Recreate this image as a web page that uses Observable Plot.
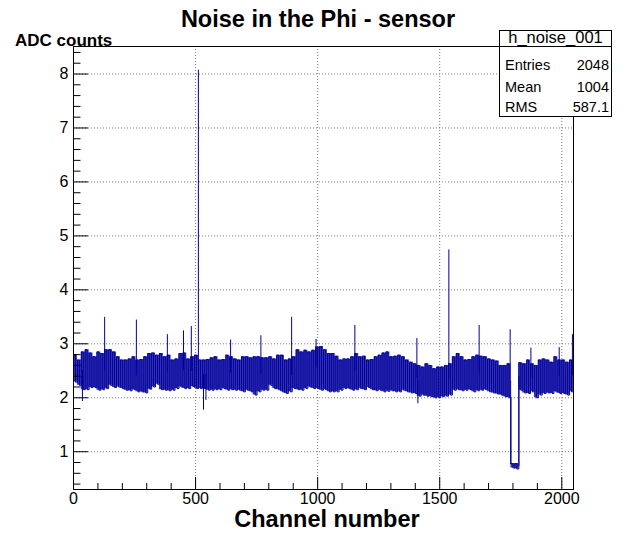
<!DOCTYPE html>
<html><head><meta charset="utf-8">
<script src="https://cdn.jsdelivr.net/npm/d3@7"></script>
<script src="https://cdn.jsdelivr.net/npm/@observablehq/plot@0.6"></script>
<style>html,body{margin:0;padding:0;background:#fff}svg{display:block}</style>
</head><body><div id="chart"></div>
<script>
// ---- text ----
const title = "Noise in the Phi - sensor";
const xTitle = "Channel number";
const yTitle = "ADC counts";
const histName = "h_noise_001";
const statLabels = ["Entries", "Mean", "RMS"];
const statValues = ["2048", "1004", "587.1"];

// ---- axes ----
const xDomain = [0, 2048];
const yDomain = [0.30, 8.51];
const xMajor = [0, 500, 1000, 1500, 2000];
const xMinor = [100, 200, 300, 400, 600, 700, 800, 900, 1100, 1200, 1300, 1400, 1600, 1700, 1800, 1900];
const yMajor = [1, 2, 3, 4, 5, 6, 7, 8];
const yMinor = [0.4, 0.6, 0.8, 1.2, 1.4, 1.6, 1.8, 2.2, 2.4, 2.6, 2.8, 3.2, 3.4, 3.6, 3.8, 4.2, 4.4, 4.6, 4.8,
  5.2, 5.4, 5.6, 5.8, 6.2, 6.4, 6.6, 6.8, 7.2, 7.4, 7.6, 7.8, 8.2, 8.4];

// ---- data: noise band envelope (max / min) read per group of 16 channels ----
const segWidth = 16;
const bandHi = [
  2.79, 2.70, 2.85, 2.89, 2.83, 2.76, 2.85, 2.82, 2.89, 2.89, 2.85, 2.76, 2.70, 2.70, 2.72, 2.76, 2.70, 2.71, 2.76, 2.82, 2.83, 2.79, 2.82, 2.76, 2.79,
  2.70, 2.72, 2.82, 2.83, 2.72, 2.76, 2.79, 2.70, 2.70, 2.71, 2.74, 2.76, 2.70, 2.71, 2.79, 2.76, 2.72, 2.70, 2.76, 2.76, 2.74, 2.76, 2.76, 2.74, 2.74,
  2.76, 2.72, 2.79, 2.79, 2.70, 2.72, 2.76, 2.89, 2.85, 2.88, 2.85, 2.88, 2.94, 2.95, 2.89, 2.82, 2.82, 2.77, 2.70, 2.72, 2.72, 2.76, 2.82, 2.76, 2.77,
  2.70, 2.71, 2.76, 2.79, 2.83, 2.85, 2.76, 2.77, 2.79, 2.76, 2.70, 2.66, 2.63, 2.60, 2.57, 2.63, 2.60, 2.54, 2.57, 2.57, 2.60, 2.63, 2.76, 2.82, 2.76,
  2.70, 2.71, 2.76, 2.79, 2.77, 2.76, 2.72, 2.70, 2.68, 2.60, 2.60, 2.63, 0.78, 0.78, 2.65, 2.63, 2.70, 2.63, 2.60, 2.70, 2.72, 2.70, 2.66, 2.76, 2.70, 2.70, 2.66, 2.70
];
const bandLo = [
  2.29, 2.23, 2.15, 2.15, 2.19, 2.19, 2.14, 2.15, 2.17, 2.23, 2.19, 2.20, 2.17, 2.14, 2.13, 2.15, 2.11, 2.11, 2.09, 2.16, 2.20, 2.25, 2.15, 2.14, 2.13,
  2.14, 2.17, 2.20, 2.17, 2.17, 2.21, 2.17, 2.17, 2.17, 2.14, 2.14, 2.15, 2.15, 2.17, 2.14, 2.15, 2.14, 2.14, 2.11, 2.14, 2.11, 2.05, 2.11, 2.14, 2.14,
  2.23, 2.17, 2.15, 2.11, 2.08, 2.11, 2.17, 2.15, 2.14, 2.17, 2.20, 2.17, 2.17, 2.14, 2.15, 2.11, 2.11, 2.11, 2.14, 2.17, 2.17, 2.14, 2.15, 2.17, 2.15,
  2.19, 2.15, 2.13, 2.14, 2.11, 2.12, 2.13, 2.11, 2.11, 2.14, 2.11, 2.09, 2.08, 2.03, 2.05, 2.03, 2.02, 2.00, 2.00, 2.02, 2.03, 2.05, 2.14, 2.15, 2.13,
  2.14, 2.15, 2.11, 2.13, 2.14, 2.15, 2.11, 2.09, 2.07, 2.05, 2.02, 2.00, 0.70, 0.68, 2.14, 2.09, 2.08, 2.11, 2.00, 2.05, 2.08, 2.09, 2.08, 2.11, 2.08, 2.08, 2.05, 2.11
];

// ---- data: isolated channels sticking out of the band ----
const spikeChannel = [36, 127, 257, 384, 450, 482, 511, 532, 542, 643, 767, 893, 993, 1152, 1406, 1410, 1537, 1661, 1788, 1790, 1824, 1873, 1989, 2043];
const spikeValue   = [1.93, 3.49, 3.44, 3.17, 3.24, 3.32, 8.07, 1.77, 1.95, 3.07, 3.15, 3.49, 3.08, 3.34, 3.10, 1.89, 4.74, 3.34, 3.26, 0.76, 0.72, 2.92, 2.93, 3.17];

// ---- build tables ----
const bandData = bandHi.map((hi, i) => ({x: i * segWidth, lo: bandLo[i], hi}));
bandData.push({x: bandHi.length * segWidth, lo: bandLo[bandLo.length - 1], hi: bandHi[bandHi.length - 1]});
// each group drawn as histogram steps: its maximum channel, then its minimum channel
const zigzag = bandHi.flatMap((hi, i) => [
  {x: i * segWidth, v: hi},
  {x: i * segWidth + segWidth / 2, v: bandLo[i]}
]);
zigzag.push({x: bandHi.length * segWidth, v: bandLo[bandLo.length - 1]});
const spikes = spikeChannel.map((ch, i) => {
  const s = Math.min(Math.floor(ch / segWidth), bandHi.length - 1);
  return {ch: ch + 0.5, v: spikeValue[i], base: (bandLo[s] + bandHi[s]) / 2};
});

const blue = "#00009c";
const font = "'Liberation Sans', Arial, Helvetica, sans-serif";
const W = 626, H = 538;

const chart = Plot.plot({
  width: W, height: H,
  marginLeft: 73, marginRight: 53, marginTop: 46, marginBottom: 49,
  style: {fontFamily: font, background: "#fff", color: "#000"},
  x: {domain: xDomain, label: null},
  y: {domain: yDomain, label: null},
  marks: [
    Plot.gridX(xMajor, {stroke: "#7a7a7a", strokeOpacity: 1, strokeDasharray: "1,2"}),
    Plot.gridY(yMajor, {stroke: "#7a7a7a", strokeOpacity: 1, strokeDasharray: "1,2"}),
    Plot.areaY(bandData, {x: "x", y1: "lo", y2: "hi", curve: "step-after", fill: "#0808a0", fillOpacity: 0.82}),
    Plot.line(zigzag, {x: "x", y: "v", curve: "step-after", stroke: blue, strokeWidth: 1}),
    Plot.ruleX(spikes, {x: "ch", y1: "base", y2: "v", stroke: blue, strokeWidth: 1}),
    Plot.axisX(xMinor, {tickSize: -6, tickFormat: () => "", label: null}),
    Plot.axisX(xMajor, {tickSize: -12, tickFormat: () => "", label: null}),
    Plot.axisX(xMajor, {tickSize: 0, tickPadding: 3, fontSize: 16, tickFormat: d => String(d), label: null}),
    Plot.axisY(yMinor, {tickSize: -7.5, tickFormat: () => "", label: null}),
    Plot.axisY(yMajor, {tickSize: -15, tickFormat: () => "", label: null}),
    Plot.axisY(yMajor, {tickSize: 0, tickPadding: 5, fontSize: 16, tickFormat: d => String(d), label: null}),
    Plot.frame({stroke: "#000"})
  ]
});

const svg = d3.select(chart);
function txt(parent, x, y, s, size, anchor, bold) {
  return parent.append("text").attr("x", x).attr("y", y)
    .attr("text-anchor", anchor).style("text-anchor", anchor)
    .style("font-weight", bold ? "bold" : "normal").style("font-size", size + "px")
    .attr("fill", "#000").text(s);
}
txt(svg, 318, 26.7, title, 23.5, "middle", true);
txt(svg, 15, 45.7, yTitle, 17, "start", true);
txt(svg, 327, 526.7, xTitle, 23.5, "middle", true);

// stats box
const box = svg.append("g");
box.append("rect").attr("x", 499.5).attr("y", 30.5).attr("width", 112).attr("height", 86)
  .attr("fill", "#fff").attr("stroke", "#000");
box.append("line").attr("x1", 499.5).attr("x2", 611.5).attr("y1", 46.5).attr("y2", 46.5).attr("stroke", "#000");
txt(box, 555.5, 43.3, histName, 16.5, "middle", false);
const rowY = [70, 91.7, 112.3];
statLabels.forEach((lab, i) => {
  txt(box, 505, rowY[i], lab, 14.5, "start", false);
  txt(box, 609, rowY[i], statValues[i], 14.5, "end", false);
});

document.getElementById("chart").appendChild(chart);
</script>
</body></html>
